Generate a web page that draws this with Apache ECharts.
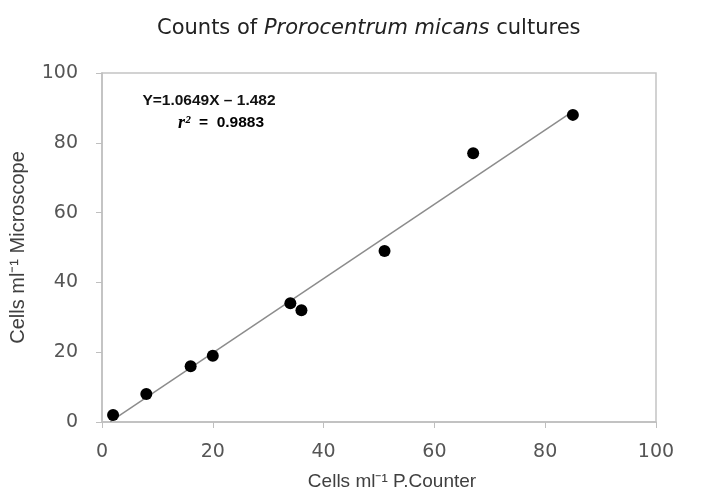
<!DOCTYPE html>
<html>
<head>
<meta charset="utf-8">
<script src="https://cdn.jsdelivr.net/npm/echarts@6/dist/echarts.min.js"></script>
<style>html,body{margin:0;padding:0;background:#fff}#c{width:714px;height:494px}</style>
</head>
<body>
<div id="c"></div>
<script>
var pCounter = [2, 8, 16, 20, 34, 36, 51, 67, 85];
var microscope = [2, 8, 16, 19, 34, 32, 49, 77, 88];
var trendX = [1.5, 85];
var trendY = [0.1, 89.0];
var xTicks = [0, 20, 40, 60, 80, 100];
var yTicks = [0, 20, 40, 60, 80, 100];
var equation = 'Y=1.0649X \u2013 1.482';
var rSquared = '0.9883';

var points = pCounter.map(function (x, i) { return [x, microscope[i]]; });
var trend = trendX.map(function (x, i) { return [x, trendY[i]]; });

var chart = echarts.init(document.getElementById('c'));
chart.setOption({
  animation: false,
  title: {
    text: '{n|Counts of }{i|Prorocentrum micans}{n| cultures}',
    left: 152,
    top: 13,
    padding: 5,
    textStyle: {
      fontWeight: 'normal',
      rich: {
        n: { fontFamily: 'DejaVu Sans', fontSize: 21, fontWeight: 'normal', color: '#222' },
        i: { fontFamily: 'DejaVu Sans', fontSize: 21, fontWeight: 'normal', fontStyle: 'italic', color: '#222' }
      }
    }
  },
  graphic: [{
    type: 'text',
    x: 209, y: 93,
    style: {
      text: equation,
      textAlign: 'center',
      fontFamily: 'Liberation Sans', fontWeight: 'bold', fontSize: 15.5, fill: '#111'
    }
  }, {
    type: 'text',
    x: 221, y: 114,
    style: {
      text: '{r|r\u00B2}{b|  =  ' + rSquared + '}',
      textAlign: 'center',
      rich: {
        b: { fontFamily: 'Liberation Sans', fontWeight: 'bold', fontSize: 15.5, color: '#111' },
        r: { fontFamily: 'Liberation Serif', fontStyle: 'italic', fontWeight: 'bold', fontSize: 18, color: '#111' }
      }
    }
  }],
  grid: { left: 102, right: 58, top: 73, bottom: 72, show: true, borderColor: '#c4c4c4', borderWidth: 1.5, outerBoundsMode: 'none', containLabel: false },
  xAxis: {
    type: 'value', min: 0, max: 100, interval: 20,
    name: 'Cells ml\u207B\u00B9 P.Counter',
    nameLocation: 'middle', nameGap: 50,
    nameTextStyle: { fontFamily: 'Liberation Sans', fontSize: 19, color: '#404040', padding: [0, 0, 0, 26] },
    axisLine: { show: true, lineStyle: { color: '#bfbfbf', width: 1.5 } },
    axisTick: { show: true, length: 6, lineStyle: { color: '#bfbfbf' } },
    axisLabel: { fontFamily: 'DejaVu Sans', fontSize: 19, color: '#555', margin: 21 },
    splitLine: { show: false }
  },
  yAxis: {
    type: 'value', min: 0, max: 100, interval: 20,
    name: 'Cells ml\u207B\u00B9 Microscope',
    nameLocation: 'middle', nameGap: 74, nameRotate: 90,
    nameTextStyle: { fontFamily: 'Liberation Sans', fontSize: 20, color: '#404040' },
    axisLine: { show: true, lineStyle: { color: '#bfbfbf', width: 1.5 } },
    axisTick: { show: true, length: 6, lineStyle: { color: '#bfbfbf' } },
    axisLabel: { fontFamily: 'DejaVu Sans', fontSize: 19, color: '#555', margin: 24 },
    splitLine: { show: false }
  },
  series: [
    {
      type: 'line', data: trend, symbol: 'none',
      lineStyle: { color: '#8c8c8c', width: 1.5 }, z: 1
    },
    {
      type: 'scatter', data: points, symbol: 'circle', symbolSize: 12,
      itemStyle: { color: '#000', opacity: 1 }, z: 2
    }
  ]
});
</script>
</body>
</html>
